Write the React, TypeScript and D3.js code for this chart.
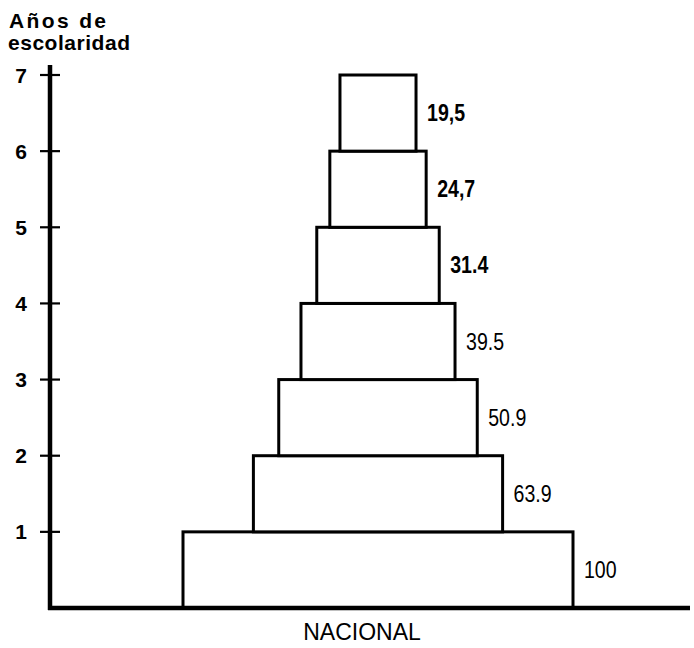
import React from "react";
import * as d3 from "d3";

const years = [1, 2, 3, 4, 5, 6, 7];
const values = [100, 63.9, 50.9, 39.5, 31.4, 24.7, 19.5];
const valueLabels = ["100", "63.9", "50.9", "39.5", "31.4", "24,7", "19,5"];
const yTicks = [1, 2, 3, 4, 5, 6, 7];
const categoryLabel = "NACIONAL";
const yTitle = ["Años de", "escolaridad"];

export default function App() {
  const W = 694, H = 648;
  const axisX = 50;
  const y = d3.scaleLinear().domain([0, 7]).range([608, 75]);
  const w = d3.scaleLinear().domain([0, 100]).range([0, 390]);
  const cx = 378;
  const font = "'Liberation Sans', Arial, sans-serif";
  return (
    <svg width={W} height={H} style={{ position: "absolute", left: 0, top: 0, background: "#fff" }}>
      <rect width={W} height={H} fill="#fff" />
      {years.map((yr, i) => {
        const half = w(values[i]) / 2;
        const top = y(yr);
        const bot = y(yr - 1);
        return (
          <rect key={yr} x={cx - half} y={top} width={half * 2} height={bot - top}
            fill="#fff" stroke="#000" strokeWidth={3} />
        );
      })}
      {years.map((yr, i) => {
        const half = w(values[i]) / 2;
        const mid = (y(yr) + y(yr - 1)) / 2;
        return (
          <text key={"l" + yr}
            transform={`translate(${cx + half + 11},${mid + 8}) scale(0.85,1)`}
            fontFamily={font} fontSize={23} fontWeight={i >= 4 ? "bold" : "normal"} fill="#000">
            {valueLabels[i]}
          </text>
        );
      })}
      <line x1={axisX} x2={axisX} y1={65} y2={610} stroke="#000" strokeWidth={4.5} />
      <line x1={axisX - 2} x2={690} y1={608} y2={608} stroke="#000" strokeWidth={4.5} />
      {yTicks.map((t) => (
        <g key={t}>
          <line x1={axisX - 10} x2={axisX + 10} y1={y(t)} y2={y(t)} stroke="#000" strokeWidth={2.2} />
          <text x={21} y={y(t) + 7.5} textAnchor="middle" fontFamily={font} fontSize={21}
            fontWeight="bold" fill="#000">{t}</text>
        </g>
      ))}
      <text x={9} y={28} fontFamily={font} fontSize={21} fontWeight="bold" fill="#000"
        textLength={97} lengthAdjust="spacing">{yTitle[0]}</text>
      <text x={8} y={50} fontFamily={font} fontSize={21} fontWeight="bold" fill="#000"
        textLength={122} lengthAdjust="spacing">{yTitle[1]}</text>
      <text x={362} y={640} textAnchor="middle" fontFamily={font} fontSize={23} fill="#000">{categoryLabel}</text>
    </svg>
  );
}
